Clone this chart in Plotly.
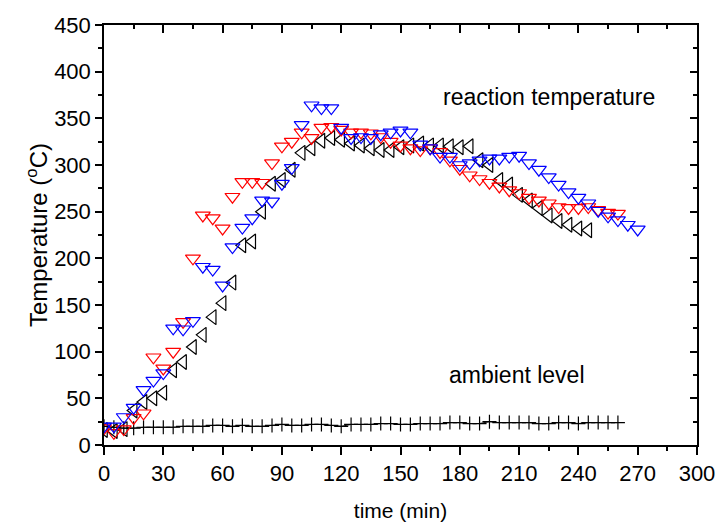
import plotly.graph_objects as go

# sampled every 5 min
t_red = list(range(0, 265, 5))
temp_red = [18, 13, 17, 29, 34, 94, 82, 100, 132, 200, 246, 243, 232, 266, 282, 282, 281, 302,
            320, 325, 335, 329, 340, 341, 338, 335, 335, 334, 330, 325, 321, 318, 316, 318,
            314, 305, 296, 289, 285, 281, 277, 273, 270, 265, 262, 259, 255, 254, 254, 255,
            252, 249, 248]

t_blue = list(range(0, 275, 5))
temp_blue = [20, 20, 30, 40, 59, 69, 77, 125, 124, 133, 191, 188, 171, 212, 233, 243, 262, 261,
             280, 297, 343, 364, 361, 361, 340, 329, 330, 329, 333, 335, 337, 335, 322, 318,
             309, 309, 300, 302, 305, 307, 307, 309, 310, 302, 295, 287, 279, 271, 265, 259,
             251, 245, 241, 236, 231]

t_black = list(range(0, 250, 5))
temp_black = [16, 15, 17, 37, 46, 50, 56, 80, 89, 105, 118, 137, 152, 174, 214, 218, 250, 280,
              284, 295, 313, 318, 326, 329, 327, 323, 321, 318, 316, 316, 319, 321, 323, 321,
              321, 320, 319, 320, 305, 300, 284, 279, 268, 262, 254, 246, 240, 236, 232, 230]

t_amb = list(range(0, 265, 5))
temp_amb = [20, 19, 18, 18, 19, 19, 19, 19, 20, 20, 20, 21, 21, 20, 21, 20, 20, 21, 22, 21,
            21, 22, 22, 21, 20, 22, 22, 22, 23, 23, 22, 22, 23, 23, 23, 24, 24, 23, 23, 25,
            24, 24, 24, 24, 23, 23, 24, 24, 23, 24, 24, 24, 24]

FONT = "Liberation Sans, Arial, sans-serif"

fig = go.Figure()

fig.add_trace(go.Scatter(x=t_amb, y=temp_amb, mode="lines+markers",
                         line=dict(color="black", width=1),
                         marker=dict(symbol="cross-thin", size=10,
                                     line=dict(color="black", width=1.2))))
fig.add_trace(go.Scatter(x=t_black, y=temp_black, mode="markers",
                         marker=dict(symbol="triangle-left-open", size=13,
                                     color="black", line=dict(width=1.2))))
fig.add_trace(go.Scatter(x=t_red, y=temp_red, mode="markers",
                         marker=dict(symbol="triangle-down-open", size=13,
                                     color="#ff0000", line=dict(width=1.2))))
fig.add_trace(go.Scatter(x=t_blue, y=temp_blue, mode="markers",
                         marker=dict(symbol="triangle-down-open", size=13,
                                     color="#0000ff", line=dict(width=1.2))))
# empty trace so the top/right axes with inward ticks get drawn
fig.add_trace(go.Scatter(x=[None], y=[None], xaxis="x2", yaxis="y2",
                         hoverinfo="skip"))

axis_common = dict(showgrid=False, zeroline=False, linecolor="black", linewidth=1.5,
                   tickcolor="black", tickwidth=1.5, automargin=False)

fig.update_layout(
    width=720, height=523,
    margin=dict(l=104, r=23, t=25, b=78),
    paper_bgcolor="white", plot_bgcolor="white",
    showlegend=False,
    font=dict(family=FONT, size=22, color="black"),
    xaxis=dict(range=[0, 300], dtick=30, ticks="outside", ticklen=8, mirror=True,
               minor=dict(dtick=15, ticks="outside", ticklen=4, tickcolor="black"),
               title=dict(text="time (min)", font=dict(size=21), standoff=18),
               **axis_common),
    yaxis=dict(range=[0, 450], dtick=50, ticks="outside", ticklen=7, mirror=True,
               minor=dict(dtick=25, ticks="outside", ticklen=4, tickcolor="black"),
               title=dict(text="Temperature (<sup>o</sup>C)", font=dict(size=24), standoff=0),
               **axis_common),
    xaxis2=dict(range=[0, 300], dtick=30, overlaying="x", side="top", anchor="y2",
                ticks="inside", ticklen=8, showticklabels=False,
                minor=dict(dtick=15, ticks="inside", ticklen=4, tickcolor="black"),
                **axis_common),
    yaxis2=dict(range=[0, 450], dtick=50, overlaying="y", side="right", anchor="x2",
                ticks="inside", ticklen=7, showticklabels=False,
                minor=dict(dtick=25, ticks="inside", ticklen=4, tickcolor="black"),
                **axis_common),
    annotations=[
        dict(text="reaction temperature", x=225, y=373, xref="x", yref="y",
             showarrow=False, font=dict(size=23)),
        dict(text="ambient level", x=209, y=75, xref="x", yref="y",
             showarrow=False, font=dict(size=23)),
    ],
)

# page body has an 8px default margin; drop it so the figure sits at the window origin
fig.write_html("out.html", config={"displayModeBar": False},
               post_script="document.body.style.margin='0';")
